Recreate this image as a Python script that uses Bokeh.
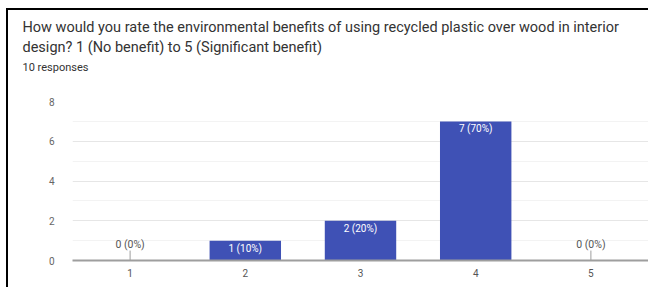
from bokeh.plotting import figure
from bokeh.models import ColumnDataSource, Title, FixedTicker, Range1d
from bokeh.core.properties import value
from bokeh.embed import file_html
from bokeh.resources import INLINE

title_lines = ["How would you rate the environmental benefits of using recycled plastic over wood in interior",
               "design?  1 (No benefit) to 5 (Significant benefit)"]
subtitle = "10 responses"
categories = [1, 2, 3, 4, 5]
counts = [0, 1, 2, 7, 0]
total = 10
y_ticks = [0, 2, 4, 6, 8]

labels = [f"{c} ({round(100 * c / total)}%)" for c in counts]

p = figure(width=648, height=287, output_backend="svg", toolbar_location=None,
           x_range=Range1d(0.5, 5.5), y_range=Range1d(0, 8),
           min_border_left=72, min_border_right=0, min_border_top=101, min_border_bottom=27)
p.outline_line_color = None
p.background_fill_color = "white"
p.border_fill_color = None

bars_x = [c for c, v in zip(categories, counts) if v > 0]
bars_y = [v for v in counts if v > 0]
bars_l = [l for l, v in zip(labels, counts) if v > 0]
zero_x = [c for c, v in zip(categories, counts) if v == 0]
zero_y = [v for v in counts if v == 0]
zero_l = [l for l, v in zip(labels, counts) if v == 0]

src = ColumnDataSource(dict(x=bars_x, top=bars_y, lab=bars_l))
zsrc = ColumnDataSource(dict(x=zero_x, y=zero_y, y1=[v + 0.5 for v in zero_y], lab=zero_l))

p.vbar(x="x", top="top", bottom=0, width=0.62, source=src, fill_color="#3f51b5", line_color=None)
p.text(x="x", y="top", text="lab", source=src, text_color="white", text_font=value("Roboto"),
       text_font_size="10px", text_align="center", text_baseline="top", y_offset=2)
p.segment(x0="x", y0="y", x1="x", y1="y1", source=zsrc, line_color="#9e9e9e", line_width=1)
p.text(x="x", y="y", text="lab", source=zsrc, text_color="#555555", text_font=value("Roboto"),
       text_font_size="10.5px", text_align="center", text_baseline="middle", y_offset=-16)

# axes
p.xaxis.ticker = FixedTicker(ticks=categories)
p.xaxis.axis_line_color = "#9e9e9e"
p.xaxis.axis_line_width = 2
p.xaxis.major_tick_line_color = None
p.xaxis.minor_tick_line_color = None
p.xaxis.major_label_standoff = 2
p.xaxis.major_label_text_font = "Roboto"
p.xaxis.major_label_text_font_size = "10px"
p.xaxis.major_label_text_color = "#555555"

p.yaxis.ticker = FixedTicker(ticks=y_ticks, minor_ticks=[1, 3, 5, 7])
p.yaxis.axis_line_color = None
p.yaxis.major_tick_line_color = None
p.yaxis.minor_tick_line_color = None
p.yaxis.major_label_standoff = 12
p.yaxis.major_label_text_font = "Roboto"
p.yaxis.major_label_text_font_size = "10px"
p.yaxis.major_label_text_color = "#666666"

p.xgrid.grid_line_color = None
p.ygrid.grid_line_color = "#e6e6e6"
p.ygrid.minor_grid_line_color = "#f3f3f3"

# title block: first added sits nearest the frame; a blank spacer title keeps the gap
p.add_layout(Title(text=" ", align="left", offset=-50, standoff=10,
                   text_font="Roboto", text_font_size="11px"), "above")
p.add_layout(Title(text=subtitle, align="left", offset=-50, standoff=5,
                   text_font="Roboto", text_font_size="11px", text_font_style="normal",
                   text_color="#333333"), "above")
p.add_layout(Title(text=title_lines[1], align="left", offset=-50, standoff=1,
                   text_font="Roboto", text_font_size="14.5px", text_font_style="normal",
                   text_color="#333333"), "above")
p.add_layout(Title(text=title_lines[0], align="left", offset=-50, standoff=1,
                   text_font="Roboto", text_font_size="14.5px", text_font_style="normal",
                   text_color="#333333"), "above")

p.styles = {"box-shadow": "inset 6px 8px 0 0 #fff, inset 8px 10px 0 0 #000"}

open("out.html", "w").write(file_html(p, INLINE))
